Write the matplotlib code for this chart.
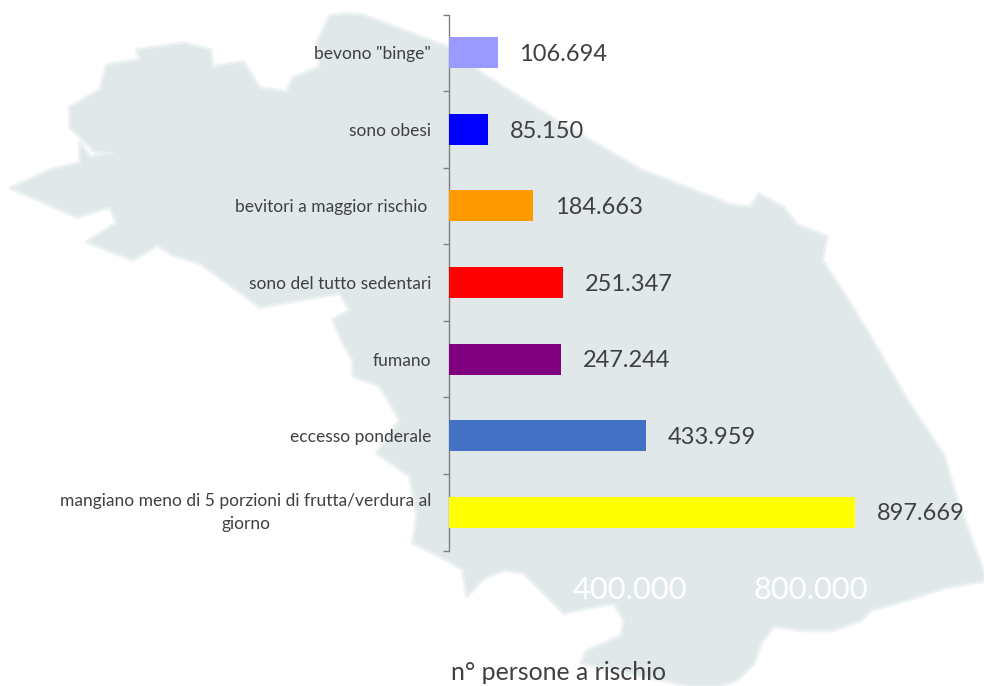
import matplotlib
matplotlib.use("Agg")
import matplotlib.pyplot as plt
from matplotlib.patches import Polygon
from matplotlib.ticker import FixedLocator, FuncFormatter
from matplotlib.transforms import ScaledTranslation

W, H = 984, 686
plt.rcParams['font.family'] = ['Lato', 'DejaVu Sans']

categories = ['bevono "binge"', 'sono obesi', 'bevitori a maggior rischio ',
              'sono del tutto sedentari', 'fumano', 'eccesso ponderale',
              'mangiano meno di 5 porzioni di frutta/verdura al\ngiorno']
values = [106694, 85150, 184663, 251347, 247244, 433959, 897669]
value_labels = ['106.694', '85.150', '184.663', '251.347', '247.244', '433.959', '897.669']
colors = ['#9999FF', '#0000FF', '#FF9900', '#FF0000', '#800080', '#4472C4', '#FFFF00']
x_ticks = [400000, 800000]
x_tick_labels = ['400.000', '800.000']
x_title = 'n° persone a rischio'

# background map silhouette (decorative image in the reference), in pixels
map_outline = [
    (330,16),(345,14),(362,15),(447,47),(484,75),(560,123),(641,170),(731,205),(751,207),(759,194),
    (784,208),(797,225),(827,237),(822,260),(851,305),(874,343),(907,400),(944,456),(957,500),
    (984,573),(984,581),(944,588),(904,601),(871,610),(861,620),(834,630),(801,630),(774,626),
    (761,643),(754,663),(737,680),(717,686),(690,686),(581,663),(587,651),(621,636),(624,620),
    (614,603),(597,606),(564,613),(547,596),(524,573),(504,570),(484,578),(467,596),(463,570),
    (447,560),(413,543),(417,516),(410,476),(377,453),(400,420),(380,386),(353,376),(353,360),
    (343,343),(333,320),(350,310),(340,293),(300,300),(260,307),(200,263),(173,255),(157,245),
    (133,260),(87,242),(117,223),(110,207),(77,217),(11,188),(50,170),(80,163),(80,143),(90,157),
    (113,153),(95,152),(70,127),(70,107),(100,90),(107,65),(140,60),(137,50),(183,43),(210,50),
    (213,67),(243,62),(260,88),(287,92),(293,78),(320,67),(317,43),
]

fig = plt.figure(figsize=(W / 100, H / 100), dpi=100, facecolor='white')
map_xy = [(x / W, 1 - y / H) for x, y in map_outline]
# soft halo, then a pale rim, then the fill, as the source image has blurred edges
fig.add_artist(Polygon(map_xy, closed=True, transform=fig.transFigure, facecolor='none',
                       edgecolor='#F3F6F7', linewidth=3.5, joinstyle='round', zorder=0))
fig.add_artist(Polygon(map_xy, closed=True, transform=fig.transFigure, facecolor='#E1E8EA',
                       edgecolor='#EAF0F1', linewidth=1.5, joinstyle='round', zorder=0))

left, right, top, bottom = 449.4, 984, 14.5, 550.5
ax = fig.add_axes([left / W, 1 - bottom / H, (right - left) / W, (bottom - top) / H])
ax.patch.set_alpha(0)

px_per_unit = (855.4 - left) / values[-1]
ax.set_xlim(0, (right - left) / px_per_unit)
ax.set_ylim(len(categories) - 0.5, -0.5)

pos = list(range(len(categories)))
ax.barh(pos, values, height=31 / 76.57, color=colors, linewidth=0, zorder=3)

for p, v, t in zip(pos, values, value_labels):
    ax.annotate(t, (v, p), xytext=(15.6, -1.2), textcoords='offset points',
                ha='left', va='center', fontsize=17, color='#404040')

for s in ['top', 'right', 'bottom']:
    ax.spines[s].set_visible(False)
ax.spines['left'].set_color('#808080')
ax.spines['left'].set_linewidth(1.0)

ax.set_yticks(pos)
ax.set_yticklabels(categories, fontsize=12.5, color='#404040', multialignment='center',
                   linespacing=1.55)
ax.tick_params(axis='y', which='major', length=0, pad=13)
ax.yaxis.set_minor_locator(FixedLocator([i - 0.5 for i in range(len(categories) + 1)]))
ax.yaxis.set_minor_formatter(FuncFormatter(lambda v, _: ''))
ax.tick_params(axis='y', which='minor', length=4.5, width=1.0, color='#808080')

# the two-line label sits a little higher than its tick centre
long_label = ax.get_yticklabels()[-1]
long_label.set_transform(long_label.get_transform() + ScaledTranslation(0, 5 / 100, fig.dpi_scale_trans))

ax.set_xticks(x_ticks)
ax.set_xticklabels(x_tick_labels, fontsize=22.2, color='white')
ax.tick_params(axis='x', length=0, pad=18.5)

fig.text(558.5 / W, 1 - 673 / H, x_title, ha='center', va='center', fontsize=17.9, color='#404040')

fig.savefig('out.png', dpi=100)
